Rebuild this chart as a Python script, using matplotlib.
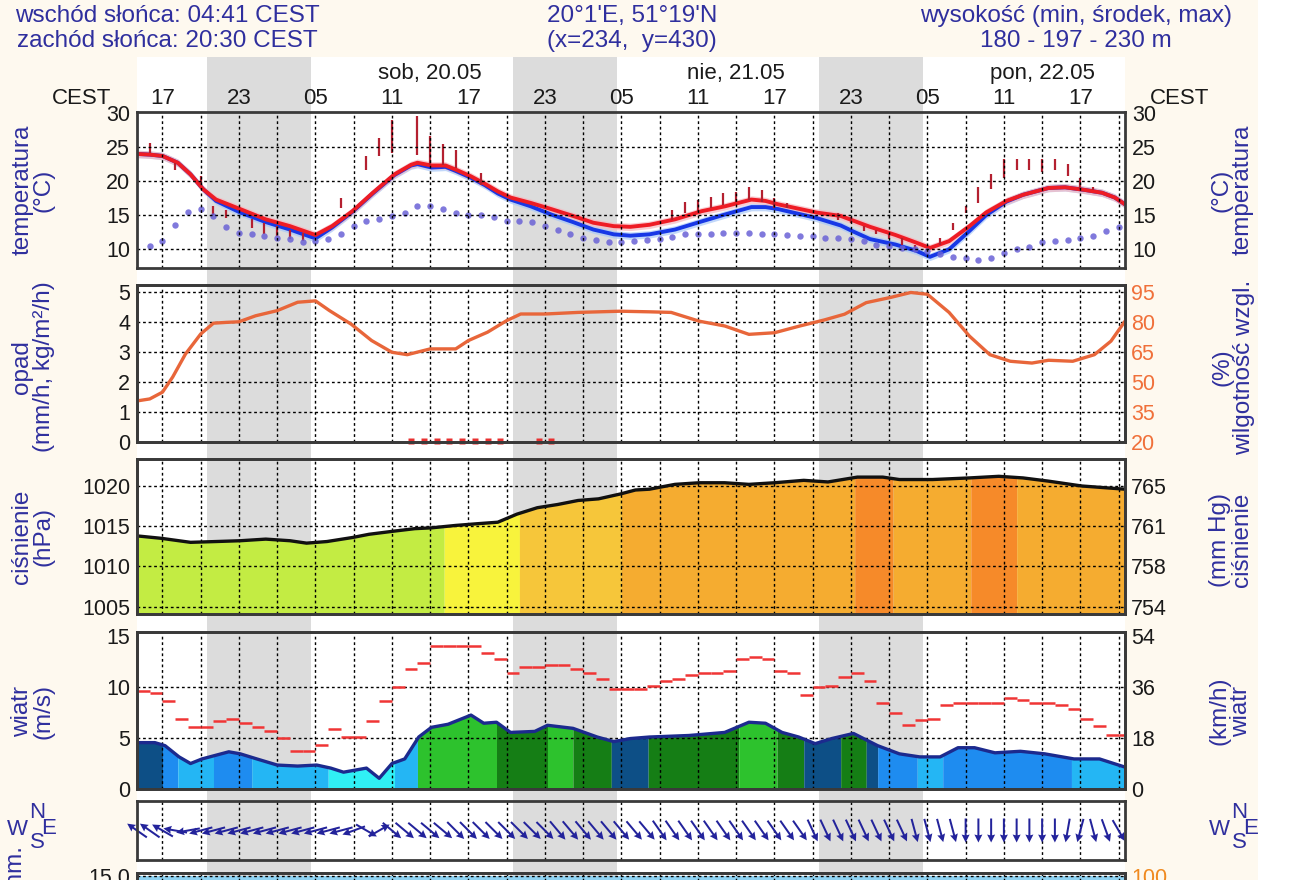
import numpy as np
import matplotlib
matplotlib.use("Agg")
import matplotlib.pyplot as plt
from matplotlib import transforms
from matplotlib.patches import Rectangle

plt.rcParams['font.family'] = ['Liberation Sans', 'DejaVu Sans']

# ---------------- data (time in hours from Fri 19.05 00:00 CEST) ----------------
header_left = ["wschód słońca: 04:41 CEST", "zachód słońca: 20:30 CEST"]
header_mid = ["20°1'E, 51°19'N", "(x=234,  y=430)"]
header_right = ["wysokość (min, środek, max)", "180 - 197 - 230 m"]
day_labels = ["sob, 20.05", "nie, 21.05", "pon, 22.05"]
sunset_h = 20.5
sunrise_h = 28.68

temp_t = [15.0, 16.0, 17.0, 18.2, 19.2, 20.2, 21.2, 23.1, 25.1, 27.0, 29.0, 30.3, 31.9, 33.5,
          35.2, 36.5, 37.0, 38.1, 39.2, 40.0, 41.2, 42.3, 43.3, 44.3, 45.9, 47.5, 49.2, 50.8,
          52.4, 53.7, 55.2, 57.2, 59.3, 61.1, 63.2, 64.3, 65.3, 68.3, 70.2, 71.2, 72.5, 74.5,
          76.1, 77.2, 78.7, 80.3, 81.6, 83.2, 84.5, 86.5, 87.8, 89.4, 90.7, 91.7, 92.5]
temp_red = [24.0, 23.9, 23.7, 22.7, 21.0, 18.8, 17.3, 15.9, 14.4, 13.4, 12.1, 13.4, 15.6, 18.3,
            21.0, 22.4, 22.7, 22.3, 22.3, 21.7, 20.7, 19.6, 18.5, 17.6, 16.8, 15.9, 14.9, 13.9,
            13.4, 13.3, 13.6, 14.4, 15.6, 16.3, 17.3, 17.1, 16.6, 15.4, 14.9, 14.2, 13.3, 12.1,
            11.0, 10.2, 11.2, 13.4, 15.4, 17.1, 18.0, 19.0, 19.1, 18.7, 18.3, 17.6, 16.6]
temp_blue = [24.0, 23.9, 23.7, 22.7, 21.0, 18.8, 17.1, 15.4, 14.0, 12.9, 11.6, 13.2, 15.5, 18.2,
             20.9, 22.3, 22.5, 22.0, 22.1, 21.5, 20.5, 19.4, 18.2, 17.3, 16.3, 15.1, 14.0, 12.9,
             12.2, 12.0, 12.2, 12.9, 14.1, 15.1, 16.2, 16.2, 15.9, 14.6, 13.5, 12.6, 11.5, 10.7,
             9.8, 8.9, 10.0, 12.7, 15.0, 17.0, 18.0, 19.0, 19.1, 18.7, 18.3, 17.6, 16.6]

dew_t = list(range(16, 93))
dew_v = [10.5, 11.2, 13.5, 15.5, 15.9, 14.9, 13.3, 12.4, 12.2, 12.0, 11.7, 11.5, 11.1, 11.2,
         11.5, 12.2, 13.4, 14.2, 14.5, 14.9, 15.4, 16.3, 16.3, 15.9, 15.4, 15.1, 15.0, 14.7,
         14.2, 14.2, 14.0, 13.4, 12.9, 12.2, 11.7, 11.3, 11.1, 11.1, 11.2, 11.3,
         11.5, 11.8, 12.2, 12.3, 12.3, 12.4, 12.4, 12.4, 12.3, 12.2, 12.1, 12.0, 11.9, 11.7,
         11.7, 11.5, 11.2, 10.7, 10.5, 10.2, 10.0, 9.7, 9.3, 8.9, 8.8, 8.5, 8.7, 9.5, 10.1,
         10.3, 11.1, 11.2, 11.3, 11.7, 12.0, 12.7, 13.3]

bar_t = [16, 18, 20, 21, 22, 24, 25, 26, 27, 28, 31, 33, 34, 35, 37, 38, 39, 40, 42,
         57, 58, 59, 60, 61, 62, 63, 64, 65, 66, 70, 71, 72, 73, 74, 75, 76, 78, 79, 80,
         81, 82, 83, 84, 85, 86, 87, 88, 89, 90]
bar_lo = [24.1, 21.7, 19.5, 15.1, 14.6, 13.2, 12.2, 12.0, 11.5, 11.2, 16.1, 21.7, 23.7, 24.1,
          23.9, 22.4, 22.4, 22.0, 19.5,
          14.3, 15.3, 15.5, 16.0, 16.5, 17.0, 17.2, 17.0, 16.0, 16.0, 14.3, 13.9, 12.7, 12.2,
          11.5, 10.7, 10.0, 10.7, 12.9, 15.3, 16.8, 18.9, 20.4, 21.6, 21.6, 21.3, 21.6, 20.8,
          18.9, 18.7]
bar_hi = [25.6, 22.7, 20.7, 16.3, 15.7, 14.4, 13.8, 13.4, 12.8, 12.4, 17.6, 23.7, 26.3, 29.0,
          29.5, 26.6, 25.4, 24.6, 21.2,
          15.8, 17.0, 17.2, 17.7, 18.2, 18.4, 19.2, 18.7, 17.5, 16.8, 15.3, 14.8, 13.4, 12.9,
          12.2, 11.7, 10.7, 11.7, 13.9, 16.3, 19.2, 21.1, 23.3, 23.3, 23.3, 23.3, 23.3, 22.5,
          20.4, 19.2]

hum_t = [15.0, 16.0, 17.0, 17.8, 18.8, 20.0, 21.0, 22.0, 23.0, 24.3, 26.0, 27.6, 29.0, 30.1,
         31.8, 33.4, 35.0, 36.2, 38.0, 40.0, 41.0, 42.5, 44.0, 45.1, 47.0, 49.6, 52.9, 55.2,
         56.9, 59.1, 61.1, 63.0, 65.0, 67.0, 68.9, 70.5, 72.2, 74.1, 75.7, 77.0, 78.7, 80.3,
         81.9, 83.5, 85.2, 86.5, 88.4, 90.1, 91.4, 92.5]
hum_v = [40.6, 41.6, 45.0, 52.6, 64.1, 74.2, 79.6, 80.0, 80.3, 83.3, 85.9, 90.1, 90.8, 85.9,
         79.1, 70.9, 65.0, 63.8, 66.7, 66.7, 70.9, 75.1, 80.9, 84.2, 84.2, 85.0, 85.6, 85.3,
         85.0, 80.6, 78.2, 74.0, 74.8, 78.2, 81.2, 84.1, 89.9, 92.5, 95.0, 94.1, 85.0, 73.1,
         63.8, 60.5, 59.6, 61.0, 60.5, 63.8, 70.6, 80.6]

rain_t = [36.5, 37.5, 38.5, 39.5, 40.5, 41.5, 42.5, 43.5, 46.5, 47.5]
rain_mm = [0.02, 0.02, 0.02, 0.02, 0.02, 0.02, 0.02, 0.02, 0.02, 0.02]

pres_t = [15.0, 16.9, 19.2, 21.2, 23.1, 25.1, 27.0, 28.3, 29.9, 31.9, 33.2, 35.2, 36.8, 38.1,
          40.0, 41.6, 43.3, 44.8, 46.4, 48.0, 49.6, 51.2, 52.9, 54.1, 55.2, 57.2, 59.1, 61.1,
          63.0, 65.0, 67.3, 69.2, 71.5, 73.5, 74.8, 77.4, 80.3, 82.6, 84.5, 86.5, 89.1, 92.5]
pres_v = [1013.8, 1013.5, 1013.0, 1013.1, 1013.2, 1013.4, 1013.2, 1012.9, 1013.1, 1013.6,
          1014.0, 1014.4, 1014.7, 1014.8, 1015.1, 1015.3, 1015.5, 1016.5, 1017.3, 1017.7,
          1018.2, 1018.4, 1019.0, 1019.5, 1019.6, 1020.2, 1020.4, 1020.4, 1020.2, 1020.4,
          1020.7, 1020.5, 1021.1, 1021.1, 1020.8, 1020.8, 1021.0, 1021.2, 1021.0, 1020.6,
          1020.0, 1019.6]
pres_band_edges = [15.0, 39.1, 45.0, 53.0, 71.3, 74.3, 80.4, 84.0, 92.5]
pres_band_cat = [0, 1, 2, 3, 4, 3, 4, 3]
mmhg_labels = ["754", "758", "761", "765"]

wind_t = [15.0, 16.4, 17.2, 18.3, 19.2, 20.1, 22.2, 23.1, 24.4, 26.0, 27.6, 29.1, 30.2, 31.2,
          33.0, 34.0, 35.0, 36.0, 37.1, 38.1, 39.4, 41.2, 42.2, 43.2, 44.3, 46.2, 47.2, 49.2,
          51.1, 52.4, 53.7, 55.2, 58.3, 61.1, 63.0, 64.3, 65.6, 66.9, 68.2, 69.5, 71.2, 73.1,
          74.8, 76.4, 78.0, 79.4, 80.7, 82.3, 84.3, 86.2, 88.5, 90.5, 92.5]
wind_v = [4.5, 4.5, 4.2, 3.1, 2.45, 2.9, 3.6, 3.4, 2.9, 2.3, 2.2, 2.3, 2.0, 1.6, 2.0, 1.0,
          2.45, 2.9, 5.05, 6.0, 6.3, 7.2, 6.4, 6.5, 5.5, 5.6, 6.2, 5.9, 5.05, 4.6, 4.9, 5.05,
          5.2, 5.5, 6.5, 6.4, 5.5, 5.05, 4.4, 4.9, 5.4, 4.2, 3.4, 3.1, 3.1, 4.0, 4.0, 3.5,
          3.65, 3.4, 2.9, 2.9, 2.1]
wind_band_edges = [15.0, 17.0, 18.2, 21.0, 24.0, 30.0, 35.2, 37.0, 43.2, 47.2, 49.2, 52.2,
                   55.1, 62.2, 65.2, 67.3, 70.2, 72.2, 73.1, 76.2, 78.2, 88.3, 92.5]
wind_band_cat = [0, 1, 2, 1, 2, 3, 2, 5, 4, 5, 4, 0, 4, 5, 4, 0, 4, 0, 1, 2, 1, 2]

gust_t = list(range(15, 93))
gust_v = [9.55, 9.36, 8.54, 6.78, 6.03, 6.03, 6.59, 6.78, 6.42, 6.03, 5.6, 4.99, 3.65, 3.65,
          4.24, 5.84, 5.02, 5.02, 6.59, 8.54, 9.94, 11.74, 12.29, 14.0, 14.0, 14.0, 14.0,
          13.27, 12.72, 11.35, 11.9, 11.9, 12.13, 12.13, 11.74, 11.3, 10.76, 9.78, 9.78, 9.78,
          10.1, 10.5, 10.76, 11.15, 11.35, 11.35, 11.57, 12.7, 12.88, 12.7, 11.57, 11.3, 9.2,
          9.94, 10.1, 10.9, 11.35, 10.5, 8.4, 7.43, 6.26, 6.68, 6.85, 8.15, 8.41, 8.41, 8.41,
          8.41, 8.87, 8.64, 8.41, 8.41, 8.2, 7.83, 6.85, 6.13, 5.28, 5.28]
kmh_labels = ["0", "18", "36", "54"]

dir_t = list(range(15, 93))
wind_from = [125, 125, 120, 100, 80, 75, 75, 75, 75, 75, 75, 75, 75, 75, 75, 75, 75, 70, 300,
             240, 310, 310, 310, 310, 310, 315, 315, 315, 315, 315, 315, 315, 315, 320, 320,
             320, 320, 320, 320, 320, 320, 325, 325, 325, 325, 325, 325, 325, 325, 325, 325,
             325, 325, 335, 335, 335, 335, 335, 335, 335, 335, 345, 345, 345, 345, 0, 0, 0, 0,
             0, 0, 0, 0, 10, 15, 345, 340, 330]

cloud_t = [15.0, 92.5]
cloud_v = [15.0, 15.0]

# ---------------- styles ----------------
W, H = 1298, 880
X0, X1 = 137, 1125
T0, T1 = 15.0, 92.5
BLUE_TXT = '#2F2F9E'
ORANGE = '#F0703A'
NIGHT = '#DCDCDC'
PRES_COLS = ['#C3EC43', '#F8F33C', '#F6C63A', '#F5AC30', '#F68A29']
WIND_COLS = ['#0D4F86', '#1E8CF0', '#24B6F4', '#30F0F5', '#157E15', '#2DC22D']
DOT = (0, (2, 2))

fig = plt.figure(figsize=(W / 100, H / 100), dpi=100)
fig.patch.set_facecolor('#FEF9EF')
fig.patches.append(Rectangle((1258 / W, 0), 1, 1, transform=fig.transFigure,
                             facecolor='white', edgecolor='none', zorder=0))


def px_axes(y_top, y_bot, x0=X0, x1=X1):
    return fig.add_axes([x0 / W, 1 - y_bot / H, (x1 - x0) / W, (y_bot - y_top) / H])


def ftext(x, y, s, **kw):
    return fig.text(x / W, 1 - y / H, s, **kw)


grid_t = np.arange(17, T1, 3)


def frame(ax):
    ax.set_xlim(T0, T1)
    ax.patch.set_visible(False)
    ax.set_xticks([])
    for s in ax.spines.values():
        s.set_color('#3A3A3A')
        s.set_linewidth(2.0)
        s.set_zorder(10)
    ax.tick_params(axis='y', length=0, labelsize=15.5, pad=5, colors='#1A1A1A')


def grid(ax, ys):
    for t in grid_t:
        ax.axvline(t, color='k', lw=1.0, ls=DOT, zorder=5)
    for y in ys:
        ax.axhline(y, color='k', lw=1.0, ls=DOT, zorder=5)


def band_fill(ax, edges, cats, cols, xs, ys, base):
    for a, b, c in zip(edges[:-1], edges[1:], cats):
        tt = np.linspace(a, b, 40)
        ax.fill_between(tt, base, np.interp(tt, xs, ys), color=cols[c], lw=0, zorder=1)


# background column with night shading
bg = px_axes(57, 880)
bg.set_xlim(T0, T1)
bg.set_ylim(0, 1)
bg.set_facecolor('white')
bg.set_xticks([])
bg.set_yticks([])
for s in bg.spines.values():
    s.set_visible(False)
for d in range(3):
    bg.axvspan(sunset_h + 24 * d, sunrise_h + 24 * d, color=NIGHT, lw=0)

trans = transforms.blended_transform_factory(bg.transData, fig.transFigure)
for t in np.arange(17, T1, 6):
    bg.text(t, 1 - 98 / H, f"{int(t) % 24:02d}", transform=trans, ha='center', va='center',
            fontsize=16, color='#1A1A1A', clip_on=False)
for i, lab in enumerate(day_labels):
    bg.text(24 * (i + 1) + 14, 1 - 73 / H, lab, transform=trans, ha='center', va='center',
            fontsize=16, color='#1A1A1A', clip_on=False)
ftext(111, 98, "CEST", ha='right', va='center', fontsize=16, color='#1A1A1A')
ftext(1150, 98, "CEST", ha='left', va='center', fontsize=16, color='#1A1A1A')

# header
for i, y in enumerate([16, 41]):
    ftext(167, y, header_left[i], ha='center', va='center', fontsize=17.5, color=BLUE_TXT)
    ftext(632, y, header_mid[i], ha='center', va='center', fontsize=17.5, color=BLUE_TXT)
    ftext(1076, y, header_right[i], ha='center', va='center', fontsize=17.5, color=BLUE_TXT)

# ---- temperature ----
ax_t = px_axes(112, 268)
frame(ax_t)
ax_t.set_ylim(7.26, 30.15)
ax_t.set_yticks([10, 15, 20, 25, 30])
ax_t.tick_params(axis='y', labelleft=True, labelright=True)
grid(ax_t, [10, 15, 20, 25])
tb = np.array(temp_blue)
tr = np.array(temp_red)
ax_t.fill_between(temp_t, tb - 0.55, tb + 0.55, color='#A8C8F8', alpha=0.7, lw=0, zorder=2)
ax_t.fill_between(temp_t, tr - 0.55, tr + 0.55, color='#F6B8C0', alpha=0.7, lw=0, zorder=2)
ax_t.plot(temp_t, temp_blue, color='#1838E6', lw=2.8, zorder=3, solid_capstyle='butt')
ax_t.plot(temp_t, temp_red, color='#EE1C25', lw=2.8, zorder=3.2, solid_capstyle='butt')
ax_t.vlines(bar_t, bar_lo, bar_hi, color='#B42030', lw=1.6, zorder=4)
ax_t.plot(dew_t, dew_v, ls='none', marker='o', ms=4.6, mec='none', color='#6A62D6',
          alpha=0.85, zorder=4)

# ---- precipitation / humidity ----
ax_p = px_axes(285, 442)
frame(ax_p)
ax_p.set_ylim(0, 5.25)
ax_p.set_yticks([0, 1, 2, 3, 4, 5])
grid(ax_p, [1, 2, 3, 4, 5])
ax_p.plot(rain_t, rain_mm, ls='none', marker='s', ms=4.2, mec='none', color='#E83030',
          zorder=7, clip_on=False)
ax_h = ax_p.twinx()
frame(ax_h)
ax_h.set_ylim(20, 98.75)
ax_h.set_yticks([20, 35, 50, 65, 80, 95])
ax_h.tick_params(axis='y', colors=ORANGE, pad=4.5)
ax_h.plot(hum_t, hum_v, color='#E8663A', lw=2.4, zorder=6)

# ---- pressure ----
ax_pr = px_axes(459, 614)
frame(ax_pr)
ax_pr.set_ylim(1004.1, 1023.35)
ax_pr.set_yticks([1005, 1010, 1015, 1020])
band_fill(ax_pr, pres_band_edges, pres_band_cat, PRES_COLS, pres_t, pres_v, 1000)
ax_pr.plot(pres_t, pres_v, color='#111111', lw=2.4, zorder=6)
grid(ax_pr, [1005, 1010, 1015, 1020])
ax_pr2 = ax_pr.twinx()
frame(ax_pr2)
ax_pr2.set_ylim(1004.1, 1023.35)
ax_pr2.set_yticks([1005, 1010, 1015, 1020])
ax_pr2.set_yticklabels(mmhg_labels)
ax_pr2.tick_params(axis='y', pad=4.5)

# ---- wind ----
ax_w = px_axes(632, 788.5)
frame(ax_w)
ax_w.set_ylim(0, 15.35)
ax_w.set_yticks([0, 5, 10, 15])
band_fill(ax_w, wind_band_edges, wind_band_cat, WIND_COLS, wind_t, wind_v, 0)
ax_w.plot(wind_t, wind_v, color='#1C2A8E', lw=2.4, zorder=6)
ax_w.hlines(gust_v, gust_t, np.array(gust_t) + 1, colors='#F03535', lw=1.8, zorder=6)
grid(ax_w, [5, 10])
ax_w2 = ax_w.twinx()
frame(ax_w2)
ax_w2.set_ylim(0, 15.35)
ax_w2.set_yticks([0, 5, 10, 15])
ax_w2.set_yticklabels(kmh_labels)
ax_w2.tick_params(axis='y', pad=4.5)

# ---- wind direction ----
ax_d = px_axes(801, 860)
frame(ax_d)
ax_d.set_ylim(-1, 1)
ax_d.set_yticks([])
grid(ax_d, [])
n = len(dir_t)
ang = -90.0 - np.array(wind_from, dtype=float)
ax_d.quiver(dir_t, np.zeros(n), np.full(n, 24.0), np.zeros(n), angles=ang,
            scale_units='dots', scale=1, units='dots', width=2.0, headwidth=4.0,
            headlength=4.0, headaxislength=3.6, pivot='middle', color='#23239B',
            zorder=7, clip_on=False)

# ---- cloud panel (cut off by the image edge, as in the original) ----
ax_c = px_axes(873, 1030)
frame(ax_c)
ax_c.set_ylim(0, 15.3)
ax_c.fill_between(cloud_t, 0, cloud_v, color='#8ED2F2', lw=0, zorder=1)
ax_c.set_yticks([15])
ax_c.set_yticklabels(["15.0"])
grid(ax_c, [15])
ax_c2 = ax_c.twinx()
frame(ax_c2)
ax_c2.set_ylim(0, 15.3)
ax_c2.set_yticks([15])
ax_c2.set_yticklabels(["100"])
ax_c2.tick_params(axis='y', colors='#F08A20', pad=4.5)

# ---- axis titles ----
lab_kw = dict(rotation=90, ha='center', va='center', multialignment='center',
              fontsize=17.5, color=BLUE_TXT, linespacing=0.95)
ftext(33, 190, "temperatura\n(°C)", **lab_kw)
ftext(1232, 190, "(°C)\ntemperatura", **lab_kw)
ftext(33, 367, "opad\n(mm/h, kg/m²/h)", **lab_kw)
ftext(1233, 367, "(%)\nwilgotność wzgl.", **lab_kw)
ftext(33, 537, "ciśnienie\n(hPa)", **lab_kw)
ftext(1231, 540, "(mm Hg)\nciśnienie", **lab_kw)
ftext(33, 711, "wiatr\n(m/s)", **lab_kw)
ftext(1230, 711, "(km/h)\nwiatr", **lab_kw)
ftext(15, 845, "zachm.", rotation=90, ha='center', va='top', fontsize=17.5, color=BLUE_TXT)

# compass glyphs
for cx in (30, 1232):
    ftext(cx - 13, 829, "W", ha='center', va='center', fontsize=16, color=BLUE_TXT)
    ftext(cx + 7, 812, "N", ha='center', va='center', fontsize=16, color=BLUE_TXT)
    ftext(cx + 19, 828, "E", ha='center', va='center', fontsize=16, color=BLUE_TXT)
    ftext(cx + 7, 842, "S", ha='center', va='center', fontsize=16, color=BLUE_TXT)

fig.savefig("out.png", dpi=100, facecolor=fig.get_facecolor())
